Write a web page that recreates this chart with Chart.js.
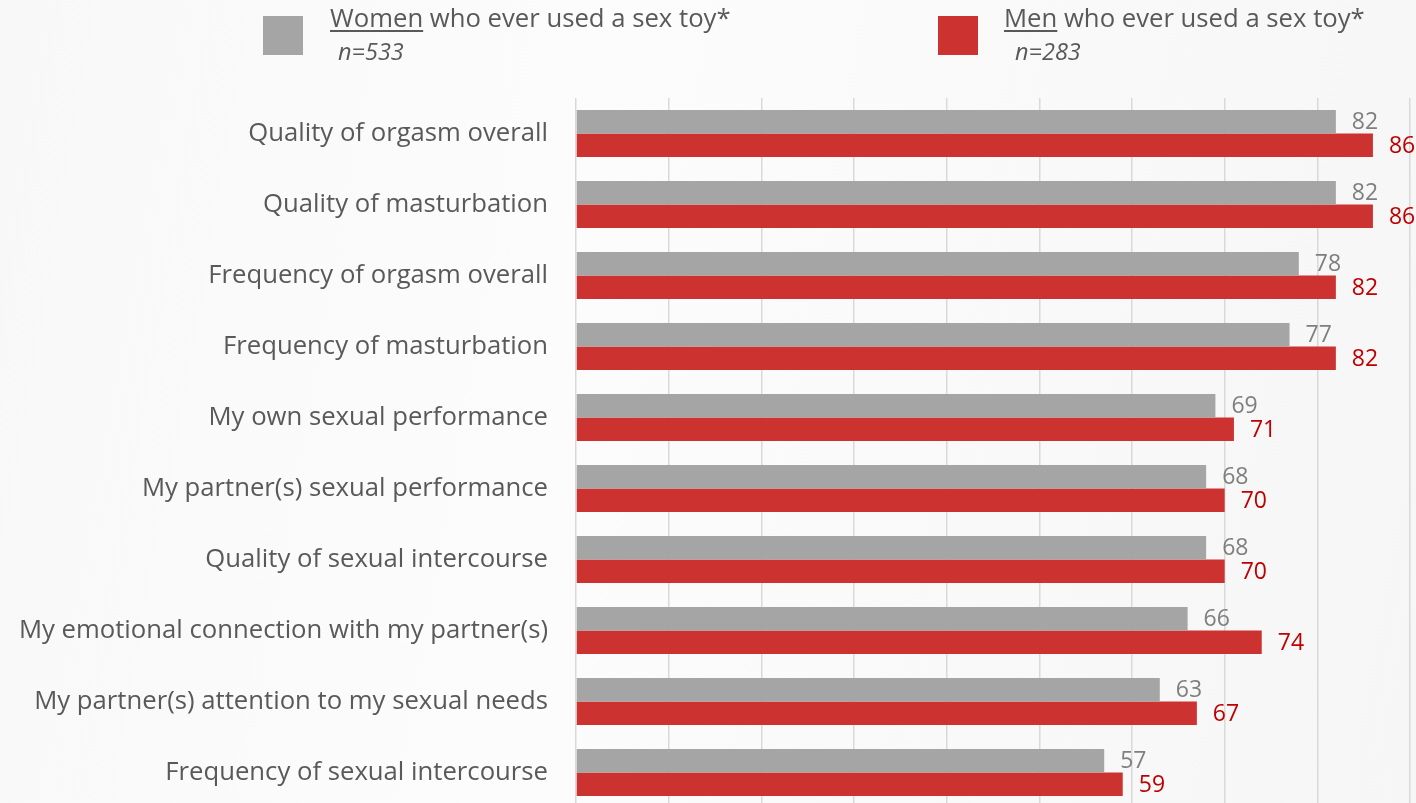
<!DOCTYPE html>
<html>
<head>
<meta charset="utf-8">
<script src="https://cdn.jsdelivr.net/npm/chart.js@4"></script>
<style>
  html, body { margin: 0; padding: 0; width: 1416px; height: 803px; overflow: hidden; }
  body { background: linear-gradient(100deg, #f8f8f8 0%, #fcfcfc 40%, #f9f9f9 70%, #f6f6f6 100%); font-family: "Open Sans", sans-serif; color: #595959; position: relative; }
  #myChart { position: absolute; left: 0; top: 0; }
  .sq { position: absolute; width: 40px; height: 39px; top: 16px; }
  .lt { position: absolute; top: 0px; font-size: 25.7px; white-space: nowrap; }
  .lt u { text-decoration-thickness: 2px; text-underline-offset: 3px; }
  .n { position: absolute; top: 35px; font-size: 23.5px; font-style: italic; }
</style>
</head>
<body>
<canvas id="myChart" width="1416" height="812"></canvas>
<div class="sq" style="left:263px;background:#a5a5a5"></div>
<div class="lt" style="left:330px"><u>Women</u> who ever used a sex toy*</div>
<div class="n" style="left:338px">n=533</div>
<div class="sq" style="left:938px;background:#cc3330"></div>
<div class="lt" style="left:1004px"><u>Men</u> who ever used a sex toy*</div>
<div class="n" style="left:1015px">n=283</div>
<script>
// Datos
const categorias = [
  "Quality of orgasm overall",
  "Quality of masturbation",
  "Frequency of orgasm overall",
  "Frequency of masturbation",
  "My own sexual performance",
  "My partner(s) sexual performance",
  "Quality of sexual intercourse",
  "My emotional connection with my partner(s)",
  "My partner(s) attention to my sexual needs",
  "Frequency of sexual intercourse"
]
const mujeres = [82, 82, 78, 77, 69, 68, 68, 66, 63, 57]
const hombres = [86, 86, 82, 82, 71, 70, 70, 74, 67, 59]
const colorLabels = ["#7f7f7f", "#c00000"]

// Etiquetas de valores al final de cada barra
const etiquetas = {
  id: "etiquetas",
  afterDatasetsDraw(chart) {
    const ctx = chart.ctx
    ctx.save()
    ctx.font = "23px 'Open Sans'"
    ctx.textAlign = "left"
    ctx.textBaseline = "middle"
    chart.data.datasets.forEach((ds, i) => {
      const meta = chart.getDatasetMeta(i)
      ctx.fillStyle = colorLabels[i]
      meta.data.forEach((bar, j) => {
        ctx.fillText(ds.data[j], bar.x + 16, bar.y + 1)
      })
    })
    ctx.restore()
  }
}

const myChart = document.getElementById("myChart")
new Chart(myChart, {
  type: "bar",
  data: {
    labels: categorias,
    datasets: [
      { label: "Women", data: mujeres, backgroundColor: "#a5a5a5" },
      { label: "Men", data: hombres, backgroundColor: "#cc3330" }
    ]
  },
  options: {
    indexAxis: "y",
    responsive: false,
    animation: false,
    events: [],
    barPercentage: 1,
    categoryPercentage: 0.662,
    layout: { padding: { top: 98, right: 6, bottom: 4, left: 0 } },
    plugins: { legend: { display: false }, tooltip: { enabled: false } },
    scales: {
      x: {
        min: 0, max: 90,
        ticks: { display: false, stepSize: 10 },
        grid: { color: "#d9d9d9", lineWidth: 1.5, drawTicks: false },
        border: { display: false },
        afterFit: (s) => { s.height = 0 }
      },
      y: {
        ticks: { color: "#595959", font: { family: "Open Sans", size: 25.7 }, padding: 28 },
        grid: { display: false, drawTicks: false },
        border: { display: false },
        afterFit: (s) => {
          s.width = 576
          s.paddingTop = 0
          s.paddingBottom = 0
        }
      }
    }
  },
  plugins: [etiquetas]
})
</script>
</body>
</html>
